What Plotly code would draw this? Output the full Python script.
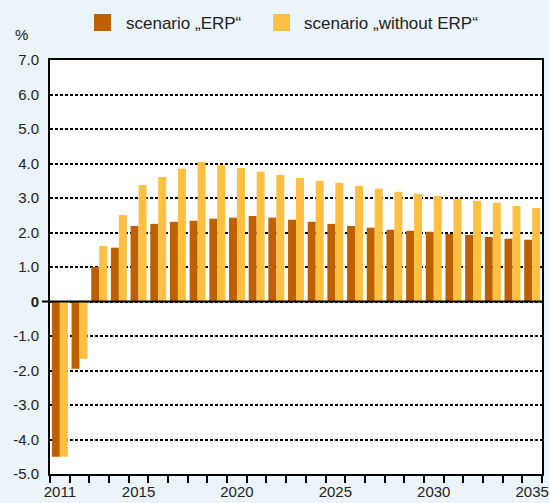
import plotly.graph_objects as go

years = [str(y) for y in range(2011, 2036)]
erp = [-4.5, -1.95, 1.0, 1.56, 2.19, 2.25, 2.31, 2.34, 2.40, 2.43, 2.48, 2.43, 2.37, 2.31,
       2.25, 2.19, 2.14, 2.08, 2.05, 2.02, 1.96, 1.93, 1.87, 1.82, 1.79]
without_erp = [-4.5, -1.66, 1.61, 2.51, 3.38, 3.61, 3.85, 4.05, 3.96, 3.87, 3.76, 3.67, 3.58, 3.50,
               3.44, 3.35, 3.27, 3.18, 3.12, 3.06, 2.97, 2.92, 2.86, 2.77, 2.71]
x_labels = ['2011', '2015', '2020', '2025', '2030', '2035']
y_ticks = [-5, -4, -3, -2, -1, 0, 1, 2, 3, 4, 5, 6, 7]
names = ['scenario „ERP“', 'scenario „without ERP“']

colors = ['#BF6000', '#FFBF40']
font = 'Liberation Sans, Arial, sans-serif'

# plot area in pixels (549x503 page)
L, R, T, B = 50, 542, 60, 474


def px_x(p):
    return (p - L) / (R - L)


def px_y(p):
    return (B - p) / (B - T)


fig = go.Figure()
fig.add_trace(go.Bar(x=years, y=erp, name=names[0], marker=dict(color=colors[0], line=dict(width=0))))
fig.add_trace(go.Bar(x=years, y=without_erp, name=names[1], marker=dict(color=colors[1], line=dict(width=0))))

fig.update_layout(
    width=549, height=503,
    margin=dict(l=L, r=549 - R, t=T, b=503 - B),
    paper_bgcolor='#EBF4F8',
    plot_bgcolor='white',
    barmode='group', bargap=0.19, bargroupgap=0,
    showlegend=False,
    font=dict(family=font, size=15, color='#222222'),
)

fig.update_xaxes(
    type='category',
    tickvals=years,
    ticktext=[y if y in x_labels else '' for y in years],
    tickson='boundaries', ticks='outside', ticklen=7, tickwidth=2, tickcolor='black',
    showline=True, linecolor='black', linewidth=2, mirror=True,
    showgrid=False, tickangle=0, automargin=False, ticklabelstandoff=3,
    tickfont=dict(size=15),
)

fig.update_yaxes(
    range=[-5, 7],
    tickvals=y_ticks,
    ticktext=['<b>0</b>' if v == 0 else f'{v:.1f}' for v in y_ticks],
    showline=True, linecolor='black', linewidth=2, mirror=True,
    showgrid=True, gridcolor='black', gridwidth=2, griddash='3px,2px',
    zeroline=False, ticks='', ticklabelstandoff=6, automargin=False,
    tickfont=dict(size=15),
)

# solid zero line, running a little past the left axis
fig.add_shape(type='line', xref='paper', yref='y', x0=px_x(42), x1=1, y0=0, y1=0,
              line=dict(color='black', width=2), layer='above')

# "%" unit label
fig.add_annotation(text='%', xref='paper', yref='paper', x=px_x(21), y=px_y(35),
                   xanchor='center', yanchor='middle', showarrow=False, font=dict(size=15))

# legend drawn by hand to get the large squares
for sq_left, txt_left, col, name in [(94, 124, colors[0], names[0]), (273, 302, colors[1], names[1])]:
    fig.add_shape(type='rect', xref='paper', yref='paper',
                  x0=px_x(sq_left), x1=px_x(sq_left + 17), y0=px_y(31), y1=px_y(14),
                  fillcolor=col, line=dict(width=0))
    fig.add_annotation(text=name, xref='paper', yref='paper', x=px_x(txt_left), y=px_y(23),
                       xanchor='left', yanchor='middle', showarrow=False, font=dict(size=17))

fig.write_html('out.html', config={'displayModeBar': False},
               post_script="document.body.style.margin='0';")
